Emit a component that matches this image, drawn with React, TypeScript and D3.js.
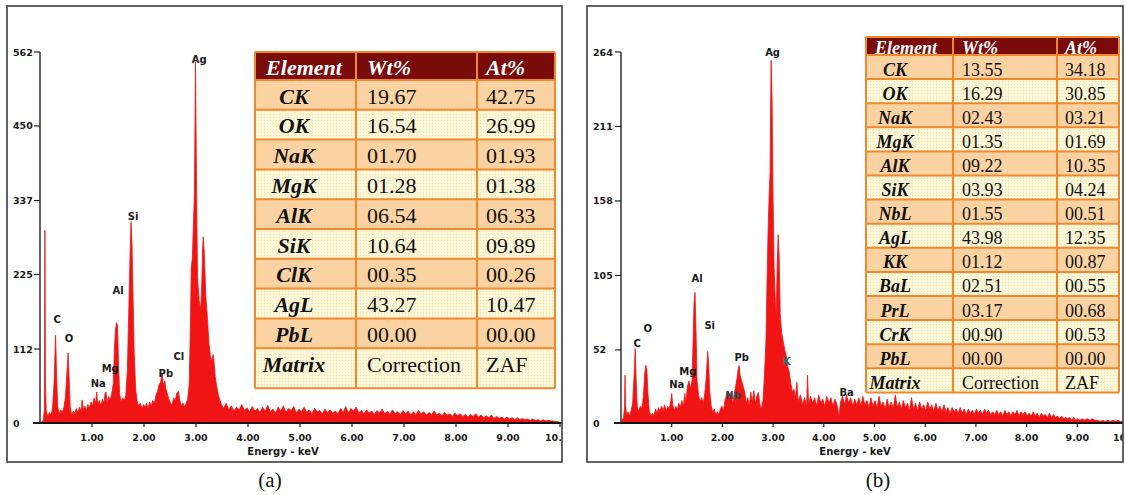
import React from "react";
import * as d3 from "d3";

type Pt = [number, number];

// ---------- DATA ----------
const spectrumA: Pt[] = [
  [0.0, 0], [0.06, 3], [0.085, 20], [0.095, 292], [0.105, 60], [0.12, 18], [0.15, 10], [0.18, 16], [0.21, 12], [0.24, 22],
  [0.27, 60], [0.3, 133], [0.32, 70], [0.34, 25], [0.37, 14], [0.4, 20], [0.43, 16], [0.46, 24], [0.49, 40], [0.52, 80],
  [0.54, 106], [0.56, 70], [0.58, 25], [0.61, 12], [0.64, 18], [0.67, 14], [0.7, 22], [0.73, 16], [0.76, 24], [0.79, 18],
  [0.81, 35], [0.83, 20], [0.86, 26], [0.89, 18], [0.92, 28], [0.95, 22], [0.98, 32], [1.01, 26], [1.04, 38], [1.07, 30],
  [1.09, 47], [1.11, 28], [1.14, 34], [1.17, 26], [1.2, 36], [1.23, 30], [1.25, 44], [1.27, 47], [1.29, 30], [1.32, 40],
  [1.35, 34], [1.38, 45], [1.41, 60], [1.43, 110], [1.45, 140], [1.47, 152], [1.49, 148], [1.51, 90], [1.53, 45], [1.56, 32],
  [1.59, 38], [1.62, 34], [1.65, 42], [1.68, 80], [1.71, 180], [1.73, 250], [1.75, 305], [1.77, 270], [1.79, 190], [1.81, 110],
  [1.84, 50], [1.87, 32], [1.9, 26], [1.93, 30], [1.96, 22], [1.99, 28], [2.02, 24], [2.05, 30], [2.08, 22], [2.11, 32],
  [2.14, 26], [2.17, 34], [2.2, 30], [2.23, 42], [2.26, 48], [2.29, 58], [2.32, 62], [2.35, 76], [2.37, 58], [2.4, 64],
  [2.42, 52], [2.45, 44], [2.48, 36], [2.51, 30], [2.54, 28], [2.57, 38], [2.6, 34], [2.63, 45], [2.66, 48], [2.69, 34],
  [2.72, 26], [2.75, 30], [2.78, 24], [2.81, 30], [2.84, 36], [2.87, 60], [2.89, 140], [2.91, 236], [2.93, 250], [2.95, 300],
  [2.97, 350], [2.99, 547], [3.01, 360], [3.03, 220], [3.06, 186], [3.09, 171], [3.11, 210], [3.13, 270], [3.14, 282], [3.16, 257],
  [3.19, 190], [3.21, 171], [3.23, 145], [3.25, 120], [3.28, 100], [3.31, 95], [3.33, 104], [3.35, 90], [3.37, 70], [3.4, 55],
  [3.43, 42], [3.46, 35], [3.49, 28],
  [3.53, 22], [3.58, 30], [3.63, 20], [3.68, 26], [3.73, 18], [3.78, 24], [3.83, 20], [3.88, 28], [3.93, 19], [3.98, 23],
  [4.03, 17], [4.08, 25], [4.13, 18], [4.18, 22], [4.23, 16], [4.28, 24], [4.33, 18], [4.38, 27], [4.43, 17], [4.48, 21],
  [4.53, 15], [4.58, 24], [4.63, 18], [4.68, 26], [4.73, 16], [4.78, 22], [4.83, 19], [4.88, 25], [4.93, 15], [4.98, 21],
  [5.03, 17], [5.08, 24], [5.13, 16], [5.18, 20], [5.23, 14], [5.28, 22], [5.33, 17], [5.38, 19], [5.43, 14], [5.48, 21],
  [5.53, 16], [5.58, 20], [5.63, 15], [5.68, 18], [5.73, 14], [5.78, 22], [5.83, 16], [5.88, 25], [5.93, 15], [5.98, 22],
  [6.03, 18], [6.08, 24], [6.13, 15], [6.18, 19], [6.23, 14], [6.28, 20], [6.33, 15], [6.38, 18], [6.43, 13], [6.48, 19],
  [6.53, 15], [6.58, 21], [6.63, 14], [6.68, 18], [6.73, 13], [6.78, 20], [6.83, 14], [6.88, 17], [6.93, 13], [6.98, 19],
  [7.03, 14], [7.08, 18], [7.13, 12], [7.18, 17], [7.23, 13], [7.28, 19], [7.33, 14], [7.38, 17], [7.43, 12], [7.48, 16],
  [7.53, 13], [7.58, 18], [7.63, 12], [7.68, 15], [7.73, 11], [7.78, 16], [7.83, 12], [7.88, 14], [7.93, 10], [7.98, 15],
  [8.03, 11], [8.08, 14], [8.13, 10], [8.18, 13], [8.23, 9], [8.28, 13], [8.33, 10], [8.38, 14], [8.43, 9], [8.48, 12],
  [8.53, 8], [8.58, 11], [8.63, 8], [8.68, 12], [8.73, 7], [8.78, 10], [8.83, 7], [8.88, 9], [8.93, 6], [8.98, 9],
  [9.03, 6], [9.08, 8], [9.13, 5], [9.18, 8], [9.23, 5], [9.28, 7], [9.33, 5], [9.38, 6], [9.43, 4], [9.48, 6],
  [9.53, 4], [9.58, 5], [9.63, 3], [9.68, 5], [9.73, 3], [9.78, 4], [9.83, 3], [9.88, 3], [9.93, 2], [9.98, 2], [10.0, 0],
];

const spectrumB: Pt[] = [
  [0.0, 0], [0.05, 4], [0.07, 12], [0.08, 34], [0.09, 12], [0.11, 6], [0.14, 8], [0.17, 5], [0.2, 9], [0.23, 14],
  [0.26, 35], [0.28, 53], [0.3, 30], [0.32, 12], [0.35, 8], [0.38, 12], [0.41, 10], [0.44, 18], [0.47, 36], [0.49, 41],
  [0.51, 38], [0.53, 22], [0.56, 8], [0.59, 5], [0.62, 7], [0.65, 5], [0.68, 10], [0.71, 7], [0.74, 11], [0.77, 8],
  [0.8, 12], [0.83, 9], [0.86, 13], [0.89, 8], [0.92, 12], [0.95, 10], [0.98, 15], [1.0, 21], [1.02, 13], [1.05, 9],
  [1.08, 12], [1.11, 9], [1.14, 14], [1.17, 11], [1.2, 16], [1.23, 12], [1.26, 21], [1.28, 14], [1.31, 26], [1.34, 30],
  [1.37, 24], [1.4, 30], [1.42, 55], [1.44, 85], [1.46, 93], [1.48, 65], [1.5, 30], [1.53, 20], [1.56, 15], [1.59, 18],
  [1.62, 14], [1.65, 20], [1.68, 32], [1.71, 51], [1.73, 42], [1.75, 22], [1.78, 12], [1.81, 8], [1.84, 10], [1.87, 6],
  [1.9, 8], [1.93, 6], [1.96, 10], [1.99, 12], [2.02, 9], [2.05, 16], [2.08, 20], [2.11, 23], [2.14, 18], [2.17, 22],
  [2.2, 14], [2.23, 20], [2.26, 26], [2.29, 32], [2.31, 38], [2.33, 41], [2.35, 34], [2.38, 30], [2.41, 26], [2.44, 22],
  [2.47, 14], [2.5, 18], [2.53, 12], [2.56, 22], [2.59, 15], [2.62, 23], [2.65, 14], [2.68, 19], [2.71, 22], [2.74, 13],
  [2.77, 10], [2.8, 16], [2.83, 34], [2.86, 60], [2.88, 100], [2.9, 135], [2.92, 160], [2.94, 178], [2.96, 258], [2.98, 230],
  [3.0, 159], [3.02, 110], [3.04, 90], [3.06, 75], [3.08, 110], [3.1, 134], [3.12, 118], [3.14, 78], [3.17, 64], [3.2, 58],
  [3.23, 52], [3.26, 48], [3.29, 40], [3.32, 36], [3.35, 28], [3.38, 22], [3.41, 24], [3.44, 18], [3.47, 29], [3.49, 16],
  [3.5, 16], [3.54, 20], [3.58, 13], [3.62, 18], [3.66, 12], [3.68, 34], [3.7, 13], [3.74, 19], [3.78, 14], [3.82, 18],
  [3.86, 12], [3.9, 20], [3.94, 14], [3.98, 17], [4.02, 12], [4.06, 19], [4.1, 14], [4.14, 18], [4.18, 12], [4.22, 17],
  [4.26, 13], [4.3, 5], [4.33, 15], [4.37, 19], [4.41, 13], [4.45, 20], [4.49, 14], [4.53, 18], [4.57, 12], [4.61, 17],
  [4.65, 13], [4.69, 18], [4.73, 12], [4.77, 19], [4.81, 13], [4.85, 16], [4.89, 11], [4.93, 18], [4.97, 12], [5.01, 16],
  [5.05, 11], [5.09, 19], [5.13, 12], [5.17, 15], [5.21, 10], [5.25, 17], [5.29, 11], [5.33, 15], [5.37, 10], [5.41, 20],
  [5.45, 11], [5.49, 15], [5.53, 10], [5.57, 16], [5.61, 11], [5.65, 14], [5.69, 9], [5.73, 18], [5.77, 10], [5.81, 14],
  [5.85, 9], [5.89, 15], [5.93, 10], [5.97, 13], [6.01, 9], [6.05, 15], [6.09, 10], [6.13, 13], [6.17, 8], [6.21, 14],
  [6.25, 9], [6.29, 12], [6.33, 8], [6.37, 13], [6.41, 8], [6.45, 11], [6.49, 7], [6.53, 11], [6.57, 8], [6.61, 10],
  [6.65, 7], [6.69, 11], [6.73, 7], [6.77, 10], [6.81, 6], [6.85, 10], [6.89, 7], [6.93, 9], [6.97, 6], [7.01, 10],
  [7.05, 7], [7.09, 9], [7.13, 6], [7.17, 10], [7.21, 7], [7.25, 9], [7.29, 6], [7.33, 8], [7.37, 6], [7.41, 9],
  [7.45, 6], [7.49, 8], [7.53, 5], [7.57, 9], [7.61, 6], [7.65, 8], [7.69, 5], [7.73, 8], [7.77, 6], [7.81, 9],
  [7.85, 5], [7.89, 8], [7.93, 6], [7.97, 8], [8.01, 5], [8.05, 7], [8.09, 5], [8.13, 8], [8.17, 5], [8.21, 7],
  [8.25, 4], [8.29, 7], [8.33, 5], [8.37, 6], [8.41, 4], [8.45, 7], [8.49, 4], [8.53, 6], [8.57, 4], [8.61, 5],
  [8.65, 3], [8.69, 5], [8.73, 3], [8.77, 4], [8.81, 3], [8.85, 4], [8.89, 2], [8.93, 4], [8.97, 2], [9.01, 3],
  [9.05, 2], [9.1, 3], [9.15, 2], [9.2, 3], [9.25, 2], [9.3, 3], [9.35, 2], [9.4, 2], [9.45, 1], [9.5, 2],
  [9.55, 1], [9.6, 2], [9.65, 1], [9.7, 2], [9.75, 1], [9.8, 2], [9.85, 1], [9.9, 1], [9.95, 1], [10.0, 0],
];

const yTicksA = [0, 112, 225, 337, 450, 562];
const yTicksB = [0, 52, 105, 158, 211, 264];
const xTicks = [1, 2, 3, 4, 5, 6, 7, 8, 9, 10];
const xTickLabels = ["1.00", "2.00", "3.00", "4.00", "5.00", "6.00", "7.00", "8.00", "9.00", "10.00"];
const xAxisTitle = "Energy - keV";

type PeakLabel = { t: string; e: number; c: number; color?: string };
const peakLabelsA: PeakLabel[] = [
  { t: "C", e: 0.33, c: 151 }, { t: "O", e: 0.56, c: 123 }, { t: "Na", e: 1.12, c: 55 },
  { t: "Mg", e: 1.35, c: 78 }, { t: "Al", e: 1.5, c: 196 }, { t: "Si", e: 1.79, c: 307 },
  { t: "Ag", e: 3.06, c: 546 }, { t: "Pb", e: 2.42, c: 70 }, { t: "Cl", e: 2.67, c: 95 },
];
const peakLabelsB: PeakLabel[] = [
  { t: "Ag", e: 2.99, c: 261 }, { t: "C", e: 0.32, c: 54 }, { t: "O", e: 0.53, c: 65 },
  { t: "Na", e: 1.1, c: 25 }, { t: "Mg", e: 1.32, c: 34 }, { t: "Al", e: 1.5, c: 100 },
  { t: "Si", e: 1.75, c: 67 }, { t: "Pb", e: 2.38, c: 44 }, { t: "Nb", e: 2.21, c: 17, color: "#2c4a4a" },
  { t: "K", e: 3.27, c: 41, color: "#1f6e6e" }, { t: "Ba", e: 4.45, c: 19 },
];

const tableHeaders = ["Element", "Wt%", "At%"];
const elementsA = ["CK", "OK", "NaK", "MgK", "AlK", "SiK", "ClK", "AgL", "PbL", "Matrix"];
const wtA = ["19.67", "16.54", "01.70", "01.28", "06.54", "10.64", "00.35", "43.27", "00.00", "Correction"];
const atA = ["42.75", "26.99", "01.93", "01.38", "06.33", "09.89", "00.26", "10.47", "00.00", "ZAF"];
const elementsB = ["CK", "OK", "NaK", "MgK", "AlK", "SiK", "NbL", "AgL", "KK", "BaL", "PrL", "CrK", "PbL", "Matrix"];
const wtB = ["13.55", "16.29", "02.43", "01.35", "09.22", "03.93", "01.55", "43.98", "01.12", "02.51", "03.17", "00.90", "00.00", "Correction"];
const atB = ["34.18", "30.85", "03.21", "01.69", "10.35", "04.24", "00.51", "12.35", "00.87", "00.55", "00.68", "00.53", "00.00", "ZAF"];

// ---------- STYLE / LAYOUT ----------
const RED = "#f01414";
const ORANGE = "#f2882c";
const MAROON = "#7a0b0b";
const PEACH = "#fbd3a2";
const YELLOW = "#fcf7d6";
const AXIS_FONT = "'DejaVu Sans', Verdana, sans-serif";
const SERIF = "'Liberation Serif', 'Times New Roman', serif";

type Layout = {
  id: string;
  frame: { x: number; y: number; w: number; h: number };
  x0: number; x10: number; yTop: number; yBase: number; tickLabelX: number;
  titleX: number;
  table: {
    x: number; y: number; cols: number[]; headerH: number; rowH: number; lastRowH: number;
    font: number; elemCenter: number; headerElemCenter: number; pad2: number; pad3: number;
    headBase: number; rowBase: number;
  };
  caption: { text: string; x: number };
};

const layoutA: Layout = {
  id: "a",
  frame: { x: 7, y: 6, w: 555, h: 456 },
  x0: 40, x10: 560, yTop: 52, yBase: 423, tickLabelX: 13, titleX: 283,
  table: { x: 255, y: 52, cols: [101, 121, 78], headerH: 28, rowH: 29.8, lastRowH: 40, font: 22,
    elemCenter: 39, headerElemCenter: 49, pad2: 11, pad3: 9, headBase: 23, rowBase: 23.5 },
  caption: { text: "(a)", x: 270 },
};
const layoutB: Layout = {
  id: "b",
  frame: { x: 587, y: 6, w: 536, h: 456 },
  x0: 621, x10: 1128, yTop: 52, yBase: 423, tickLabelX: 593, titleX: 855,
  table: { x: 866, y: 37, cols: [87, 104, 62], headerH: 18, rowH: 24.1, lastRowH: 24.1, font: 18,
    elemCenter: 29, headerElemCenter: 40, pad2: 9, pad3: 8, headBase: 16.5, rowBase: 20.5 },
  caption: { text: "(b)", x: 878 },
};

function Panel(props: {
  L: Layout; spectrum: Pt[]; yTicks: number[]; labels: PeakLabel[];
  elements: string[]; wt: string[]; at: string[];
}) {
  const { L, spectrum, yTicks, labels, elements, wt, at } = props;
  const x = d3.scaleLinear().domain([0, 10]).range([L.x0, L.x10]);
  const y = d3.scaleLinear().domain([0, yTicks[yTicks.length - 1]]).range([L.yBase, L.yTop]);
  const area = d3.area<Pt>().x((d) => x(d[0])).y0(y(0)).y1((d) => y(d[1])).curve(d3.curveLinear);
  const line = d3.line<Pt>().x((d) => x(d[0])).y((d) => y(d[1])).curve(d3.curveLinear);
  const F = L.frame;
  const T = L.table;
  const tableW = d3.sum(T.cols);
  const colX = [T.x, T.x + T.cols[0], T.x + T.cols[0] + T.cols[1]];
  const n = elements.length;
  const rowTop = (i: number) => T.y + T.headerH + i * T.rowH;
  const rowH = (i: number) => (i === n - 1 ? T.lastRowH : T.rowH);
  const tableH = T.headerH + (n - 1) * T.rowH + T.lastRowH;
  const clipId = "clip-" + L.id;
  const axisX = x(0);

  return (
    <g>
      <defs>
        <clipPath id={clipId}>
          <rect x={F.x} y={F.y} width={F.w} height={F.h} />
        </clipPath>
        <pattern id={"dots-" + L.id} width={3} height={3} patternUnits="userSpaceOnUse">
          <rect width={3} height={3} fill={YELLOW} />
          <rect width={1} height={1} fill="#ede3bd" />
        </pattern>
      </defs>
      <rect x={F.x} y={F.y} width={F.w} height={F.h} fill="#fff" />
      <g clipPath={`url(#${clipId})`}>
        <path d={area(spectrum) || ""} fill={RED} />
        <path d={line(spectrum) || ""} fill="none" stroke={RED} strokeWidth={0.8} />
        {/* axes */}
        <line x1={axisX} x2={axisX} y1={y(yTicks[yTicks.length - 1])} y2={y(0)} stroke="#222" strokeWidth={1.4} />
        <line x1={axisX - 7} x2={F.x + F.w} y1={y(0)} y2={y(0)} stroke="#111" strokeWidth={1.8} />
        {yTicks.map((v) => (
          <g key={"yt" + v}>
            <line x1={axisX - 6} x2={axisX} y1={y(v)} y2={y(v)} stroke="#222" strokeWidth={1.2} />
            <text x={L.tickLabelX} y={y(v) + 3.5} fontFamily={AXIS_FONT} fontWeight="bold" fontSize={9.5}
              fill="#1a1a1a">{v}</text>
          </g>
        ))}
        {xTicks.map((k, i) => (
          <g key={"xt" + k}>
            <line x1={x(k)} x2={x(k)} y1={y(0)} y2={y(0) + 4} stroke="#222" strokeWidth={1.2} />
            <text x={x(k)} y={441} textAnchor="middle" fontFamily={AXIS_FONT} fontWeight="bold" fontSize={9.5}
              fill="#1a1a1a">{xTickLabels[i]}</text>
          </g>
        ))}
        <text x={L.titleX} y={455} textAnchor="middle" fontFamily={AXIS_FONT} fontWeight="bold" fontSize={10}
          fill="#1a1a1a">{xAxisTitle}</text>
        {labels.map((p) => (
          <text key={"pl" + p.t} x={x(p.e)} y={y(p.c)} textAnchor="middle" fontFamily={AXIS_FONT}
            fontWeight="bold" fontSize={10} fill={p.color || "#1a1a1a"}>{p.t}</text>
        ))}
        {/* table */}
        <g>
          <rect x={T.x} y={T.y} width={tableW} height={T.headerH} fill={MAROON} />
          {elements.map((e, i) => (
            <rect key={"bg" + i} x={T.x} y={rowTop(i)} width={tableW} height={rowH(i)}
              fill={i % 2 === 0 ? PEACH : `url(#dots-${L.id})`} />
          ))}
          {[0, 1, 2, 3].map((j) => {
            const xx = j === 3 ? T.x + tableW : colX[j];
            return <line key={"vl" + j} x1={xx} x2={xx} y1={T.y} y2={T.y + tableH} stroke={ORANGE} strokeWidth={2} />;
          })}
          {d3.range(n + 2).map((i) => {
            const yy = i === 0 ? T.y : i === n + 1 ? T.y + tableH : rowTop(i - 1);
            return <line key={"hl" + i} x1={T.x} x2={T.x + tableW} y1={yy} y2={yy} stroke={ORANGE} strokeWidth={2} />;
          })}
          <text x={T.x + T.headerElemCenter} y={T.y + T.headBase} textAnchor="middle" fontFamily={SERIF}
            fontStyle="italic" fontWeight="bold" fontSize={T.font} fill="#fff">{tableHeaders[0]}</text>
          <text x={colX[1] + T.pad2} y={T.y + T.headBase} fontFamily={SERIF}
            fontStyle="italic" fontWeight="bold" fontSize={T.font} fill="#fff">{tableHeaders[1]}</text>
          <text x={colX[2] + T.pad3} y={T.y + T.headBase} fontFamily={SERIF}
            fontStyle="italic" fontWeight="bold" fontSize={T.font} fill="#fff">{tableHeaders[2]}</text>
          {elements.map((e, i) => (
            <g key={"row" + i}>
              <text x={T.x + T.elemCenter} y={rowTop(i) + T.rowBase} textAnchor="middle" fontFamily={SERIF}
                fontStyle="italic" fontWeight="bold" fontSize={T.font} fill="#111">{e}</text>
              <text x={colX[1] + T.pad2} y={rowTop(i) + T.rowBase} fontFamily={SERIF} fontSize={T.font}
                fill="#111">{wt[i]}</text>
              <text x={colX[2] + T.pad3} y={rowTop(i) + T.rowBase} fontFamily={SERIF} fontSize={T.font}
                fill="#111">{at[i]}</text>
            </g>
          ))}
        </g>
      </g>
      <rect x={F.x} y={F.y} width={F.w} height={F.h} fill="none" stroke="#3c3c3c" strokeWidth={1.6} />
      <text x={L.caption.x} y={487} textAnchor="middle" fontFamily={SERIF} fontSize={21} fill="#111">
        {L.caption.text}
      </text>
    </g>
  );
}

export default function App() {
  return (
    <svg width={1125} height={495} viewBox="0 0 1125 495"
      style={{ position: "absolute", left: 0, top: 0, background: "#fff" }}>
      <rect width={1125} height={495} fill="#fff" />
      <Panel L={layoutA} spectrum={spectrumA} yTicks={yTicksA} labels={peakLabelsA}
        elements={elementsA} wt={wtA} at={atA} />
      <Panel L={layoutB} spectrum={spectrumB} yTicks={yTicksB} labels={peakLabelsB}
        elements={elementsB} wt={wtB} at={atB} />
    </svg>
  );
}
